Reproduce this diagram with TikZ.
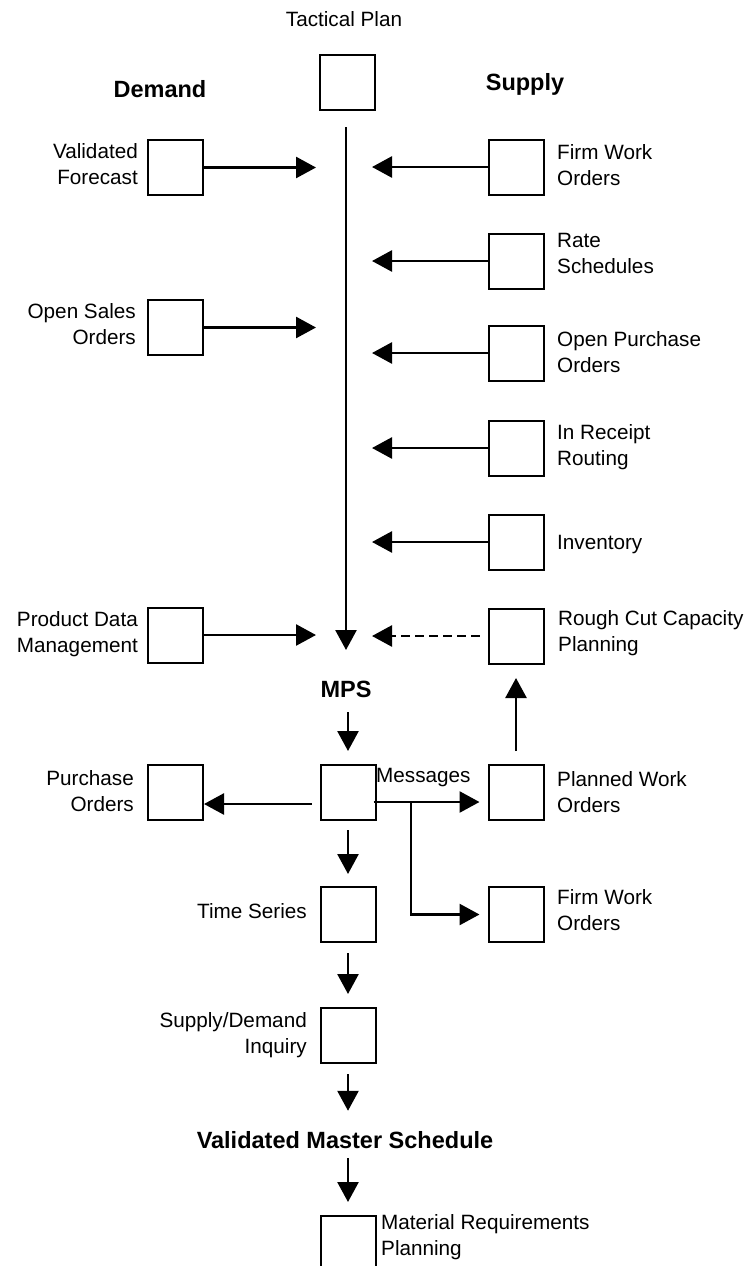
\documentclass[tikz,border=0pt]{standalone}
\usepackage{fontspec}
\setmainfont{Liberation Sans}
\usetikzlibrary{arrows.meta,calc}
\begin{document}
\begin{tikzpicture}[x=1pt,y=-1pt,
  box/.style={draw=black, line width=2pt, minimum width=55pt, minimum height=55pt, inner sep=0pt},
  lab/.style={font=\fontsize{20.7}{26}\selectfont, inner sep=0pt},
  labl/.style={lab, anchor=east, align=right},
  labr/.style={lab, anchor=west, align=left},
  headtext/.style={font=\bfseries\fontsize{23.5}{28}\selectfont, inner sep=0pt},
  flow/.style={line width=2.6pt, -{Triangle[length=20pt,width=21pt]}},
  dashflow/.style={flow, dash pattern=on 9pt off 5pt},
  ]
% page and clipping frame
\path[use as bounding box, clip] (0,0) rectangle (751,1266);
\fill[white] (0,0) rectangle (751,1266);

% column guides for the arrow tips beside the main line
\coordinate (xL) at (316,0);
\coordinate (xR) at (372,0);

% top
\node[lab, anchor=base] (tpl) at (344,27) {Tactical Plan};
\node[box] (tp) at (347,82) {};
\node[headtext, anchor=base] (dem) at (160,97) {Demand};
\node[headtext, anchor=base] (sup) at (525,90) {Supply};

% demand side
\node[box] (vf) at (175.5,167.5) {};
\node[labl] (vfl) at (138,164) {Validated\\Forecast};
\node[box] (oso) at (175.5,327.5) {};
\node[labl] (osol) at (136,324) {Open Sales\\Orders};
\node[box] (pdm) at (175.5,635) {};
\node[labl] (pdml) at (138,634) {Product Data\\Management};

% supply side
\node[box] (fwa) at (516.5,167) {};
\node[labr] (fwal) at (557,165) {Firm Work\\Orders};
\node[box] (rs) at (516.5,261) {};
\node[labr] (rsl) at (557,253) {Rate\\Schedules};
\node[box] (opo) at (516.5,353) {};
\node[labr] (opol) at (557,352) {Open Purchase\\Orders};
\node[box] (irr) at (516.5,448) {};
\node[labr] (irrl) at (557,447) {In Receipt\\Routing};
\node[box] (inv) at (516.5,542) {};
\node[lab, anchor=base west] (invl) at (557,549) {Inventory};
\node[box] (rccp) at (516,636) {};
\node[labr] (rccpl) at (558,633) {Rough Cut Capacity\\Planning};

% MPS
\node[headtext, anchor=base] (mps) at (346,697) {MPS};
\node[box] (mpsb) at (348,792) {};
\node[box] (po) at (175.5,792) {};
\node[labl] (pol) at (134,791) {Purchase\\Orders};
\node[lab, anchor=base west] (msg) at (376,782) {Messages};
\node[box] (pwo) at (516,792) {};
\node[labr] (pwol) at (557,792) {Planned Work\\Orders};
\node[box] (fwb) at (516,914.5) {};
\node[labr] (fwbl) at (557,910) {Firm Work\\Orders};

% lower column
\node[box] (ts) at (348,914.5) {};
\node[lab, anchor=base east] (tsl) at (307,918) {Time Series};
\node[box] (sdi) at (348,1035) {};
\node[labl] (sdil) at (307,1035) {Supply/Demand\\Inquiry};
\node[headtext, anchor=base] (vms) at (345,1148) {Validated Master Schedule};
\node[box] (mrp) at (348,1243) {};
\node[labr] (mrpl) at (381,1237) {Material Requirements\\Planning};

% main vertical line into MPS
\coordinate (vtop) at (346,127);
\coordinate (mpstip) at (346,650);
\draw[flow] (vtop) -- (mpstip);

% demand inputs
\draw[flow] (vf.east) -- (vf.east -| xL);
\draw[flow] (oso.east) -- (oso.east -| xL);
\draw[flow] (pdm.east) -- (pdm.east -| xL);

% supply inputs
\draw[flow] (fwa.west) -- (fwa.west -| xR);
\draw[flow] (rs.west) -- (rs.west -| xR);
\draw[flow] (opo.west) -- (opo.west -| xR);
\draw[flow] (irr.west) -- (irr.west -| xR);
\draw[flow] (inv.west) -- (inv.west -| xR);
\draw[dashflow, shorten <=8pt] (rccp.west) -- (rccp.west -| xR);

% MPS outputs
\draw[flow, shorten <=15pt, shorten >=12.5pt] (mps.south -| mpsb) -- (mpsb.north);
\coordinate (postart) at ($(mpsb.west)+(-8,12)$);
\draw[flow] (postart) -- (postart -| po.east);
\coordinate (msgstart) at ($(mpsb.east)+(-3,10)$);
\coordinate (branch) at (411,0);
\draw[flow, shorten >=8pt] (msgstart) -- (msgstart -| pwo.west);
\draw[flow, shorten >=8pt] (msgstart -| branch) |- (fwb.west);
\draw[flow, shorten <=12.5pt, shorten >=13.5pt] (pwo.north) -- (rccp.south);

% down the lower column
\draw[flow, shorten <=9.5pt, shorten >=12pt] (mpsb.south) -- (ts.north);
\draw[flow, shorten <=10pt, shorten >=12.5pt] (ts.south) -- (sdi.north);
\draw[flow, shorten <=10.5pt, shorten >=20pt] (sdi.south) -- (sdi.south |- vms.north);
\draw[flow, shorten <=10pt, shorten >=12.5pt] (vms.south -| mrp) -- (mrp.north);
\end{tikzpicture}
\end{document}
